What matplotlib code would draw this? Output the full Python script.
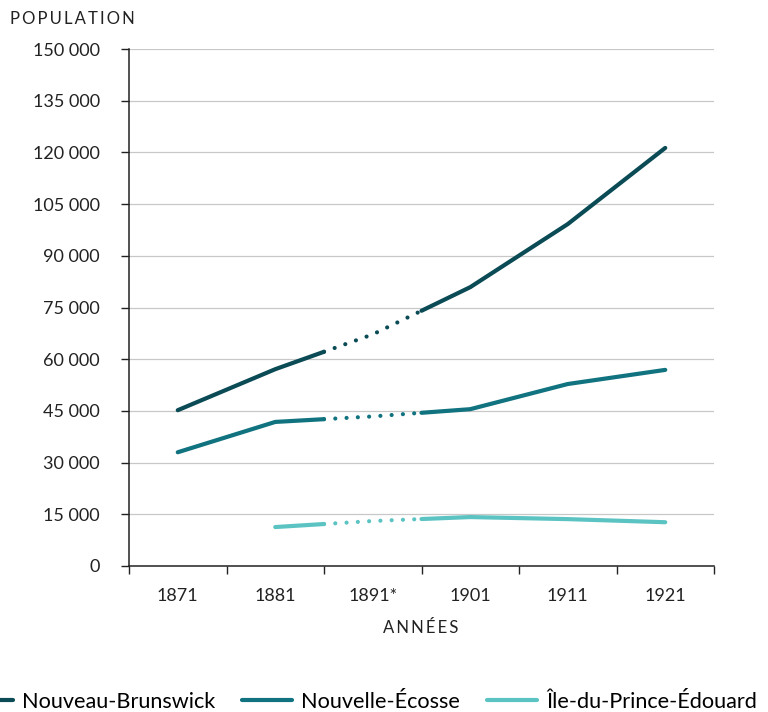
import matplotlib
matplotlib.use("Agg")
import matplotlib.pyplot as plt
import numpy as np

years = ["1871", "1881", "1891*", "1901", "1911", "1921"]
nb = [45200, 57100, 67200, 80900, 99200, 121300]
ne = [33000, 41800, 43400, 45500, 52800, 56900]
pei = [np.nan, 11300, 13060, 14200, 13600, 12700]
series_names = ["Nouveau-Brunswick", "Nouvelle-Écosse", "Île-du-Prince-Édouard"]
colors = ["#0b4b56", "#10737f", "#5cc3c3"]
yticks = list(range(0, 150001, 15000))

plt.rcParams['font.family'] = ['Lato', 'DejaVu Sans']

fig = plt.figure(figsize=(7.68, 7.12), dpi=100)
ax = fig.add_axes([129/768, 1-566/712, (714-129)/768, (566-49)/712])

x = np.arange(len(years))
lw = 3.0
handles = []
for vals, c, name in zip([nb, ne, pei], colors, series_names):
    v = np.array(vals, dtype=float)
    mid1 = (v[1] + v[2]) / 2
    mid2 = (v[2] + v[3]) / 2
    xs1 = np.concatenate([x[:2], [1.5]])
    ys1 = np.concatenate([v[:2], [mid1]])
    ok = ~np.isnan(ys1)
    h, = ax.plot(xs1[ok], ys1[ok], color=c, lw=lw, solid_capstyle='round', label=name)
    ax.plot([1.5, 2, 2.5], [mid1, v[2], mid2], color=c, lw=lw,
            linestyle=(0, (0.01, 2.7)), dash_capstyle='round')
    ax.plot(np.concatenate([[2.5], x[3:]]), np.concatenate([[mid2], v[3:]]),
            color=c, lw=lw, solid_capstyle='round')
    handles.append(h)

ax.set_xlim(-0.5, 5.5)
ax.set_ylim(0, 150000)
ax.set_yticks(yticks)
ax.set_yticklabels([f"{t:,}".replace(",", " ") if t else "0" for t in yticks])
ax.set_xticks(x)
ax.set_xticklabels(years)
ax.set_xticks(np.arange(-0.5, 5.51, 0.5), minor=True)
ax.tick_params(axis='x', which='major', length=0, pad=16, labelsize=13, colors='#222222')
ax.tick_params(axis='x', which='minor', length=6, width=1, color='#222222')
ax.tick_params(axis='y', length=6, width=1, pad=15, labelsize=13, colors='#222222')
for s in ['top', 'right']:
    ax.spines[s].set_visible(False)
for s in ['left', 'bottom']:
    ax.spines[s].set_linewidth(1.1)
    ax.spines[s].set_color('#222222')
for t in yticks[1:]:
    ax.axhline(t, color='#c8c8c8', lw=0.9, zorder=0)

ts = "\u2009"
fig.text(10/768, 1-19/712, ts.join("POPULATION"), fontsize=12, ha='left', va='center',
         color='#222222')
fig.text(421/768, 1-628/712, ts.join("ANNÉES"), fontsize=12, ha='center', va='center',
         color='#222222')

fig.legend(handles=handles, loc='center left', bbox_to_anchor=(-37/768, 1-702/712),
           ncol=3, frameon=False, fontsize=15.6, handlelength=2.3, handletextpad=0.42,
           columnspacing=1.25, borderpad=0, borderaxespad=0)

fig.savefig("out.png", dpi=100)
